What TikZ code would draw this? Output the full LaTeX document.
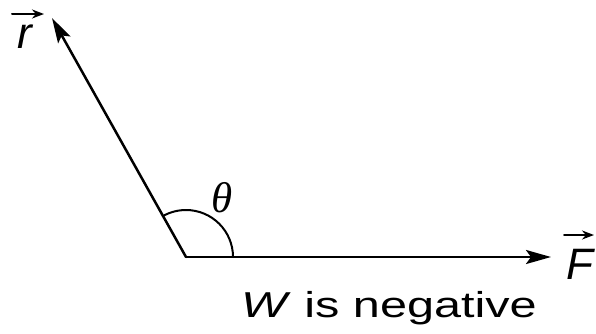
\documentclass[tikz,border=0pt]{standalone}
\usepackage{fontspec}
\setmainfont{Liberation Sans}
\newfontfamily\thetafont{Liberation Serif}
\usetikzlibrary{arrows.meta}

\begin{document}
\begin{tikzpicture}[x=1pt,y=-1pt,line cap=round,
  vecline/.style={line width=2.5pt,-{Stealth[length=25pt,width=14pt,inset=5pt]}},
  overarrow/.style={line width=2pt,-{Stealth[length=12pt,width=9pt]}},
  lab/.style={inner sep=0pt,font=\fontsize{44}{44}\selectfont\itshape}]
  \useasboundingbox (0,0) rectangle (596,333);
  % the two vectors from a common tail
  \coordinate (O) at (186,257);
  \coordinate (r) at (52,18);
  \coordinate (F) at (551,257);
  \draw[vecline] (O) -- (r);
  \draw[vecline] (O) -- (F);
  % the angle between them
  \draw[line width=2pt] (O) ++(47,0) arc[start angle=0,end angle=-119.2,radius=47];
  \node[inner sep=0pt,font=\fontsize{43}{43}\selectfont\thetafont\itshape] (theta) at (222,198) {θ};
  % labels with their small arrows
  \node[lab,anchor=base] (rlab) at (25,48) {r};
  \node[lab,anchor=base] (Flab) at (580,279) {F};
  \coordinate (ra) at (12,14); \coordinate (rb) at (44,14);
  \coordinate (Fa) at (564,235); \coordinate (Fb) at (594,235);
  \draw[overarrow] (ra) -- (rb);
  \draw[overarrow] (Fa) -- (Fb);
  \node[font=\fontsize{36}{36}\selectfont,xscale=1.35,anchor=base,inner sep=0pt] (cap) at (389,317) {\textit{W} is negative};
\end{tikzpicture}
\end{document}
